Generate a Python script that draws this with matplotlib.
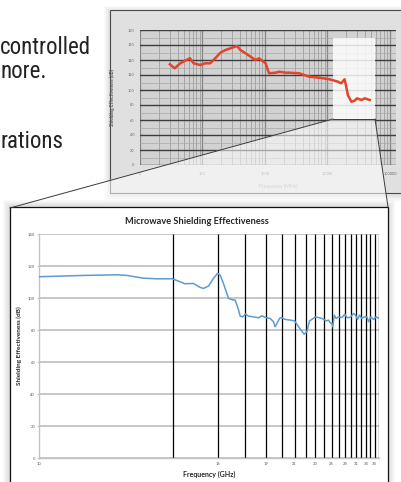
import numpy as np
import matplotlib
matplotlib.use("Agg")
import matplotlib.pyplot as plt
from matplotlib import font_manager
from matplotlib.patches import Rectangle, Polygon

plt.rcParams['font.family'] = ['Lato', 'DejaVu Sans']

W, H = 401, 482

# main chart: position along the axis (in units of the vertical grid lines) and dB
se_pos = [0.0, 0.16, 0.37, 0.45, 0.61, 0.77, 1.0, 1.13, 1.22, 1.39, 1.54, 1.62, 1.75, 1.88,
          2.0, 2.08, 2.18, 2.35, 2.53, 2.59, 2.72, 2.78, 2.89, 3.0, 3.13, 3.37, 3.62, 3.79,
          4.0, 4.27, 4.47, 4.57, 4.69, 4.86, 5.0, 5.26, 5.64, 6.0, 6.34, 6.85, 7.11, 7.38,
          7.62, 8.0, 8.35, 8.75, 9.0, 9.28, 9.59, 9.81, 10.0, 10.17, 10.36, 10.65, 11.0,
          11.51, 12.0, 12.32, 12.89, 13.49, 13.87, 14.26, 14.65, 15.12, 15.61, 16.19, 16.56,
          17.09, 17.73, 18.38, 19.15]
se_db = [113.3, 114.1, 114.5, 114.1, 112.4, 112.0, 112.0, 110.1, 108.9, 109.1, 106.6, 106.0,
         107.5, 112.2, 115.4, 114.3, 109.1, 99.7, 98.7, 98.7, 92.4, 88.7, 88.2, 89.9, 88.7,
         88.2, 87.6, 88.9, 87.8, 87.2, 85.1, 82.0, 84.1, 87.2, 87.8, 86.6, 86.2, 85.7, 82.0,
         77.4, 78.9, 85.7, 86.6, 88.2, 87.8, 87.2, 86.6, 85.7, 86.2, 84.5, 84.1, 82.0, 89.3,
         87.2, 88.2, 87.8, 89.9, 87.8, 87.8, 90.3, 89.3, 86.6, 89.3, 87.2, 88.2, 88.2, 85.1,
         88.2, 86.6, 88.2, 87.2]
line_pos = [1, 2, 3, 4, 5, 6, 7, 8, 9, 10, 11, 12, 13, 14, 15, 16, 17, 18, 19]
tick_pos = [0, 2, 4, 6, 8, 10, 12, 14, 16, 18]
tick_lab = ['10', '16', '19', '21', '23', '26', '28', '31', '34', '38']

# small screenshot chart (MHz, dB)
in_mhz = [30, 36, 44, 53, 63, 72, 92, 111, 133, 160, 193, 232, 280, 357, 405, 489, 588, 708,
          800, 1025, 1160, 1490, 1680, 2160, 2440, 3530, 5130, 7430, 10800, 14700, 16600,
          18800, 20000, 21200, 24100, 27200, 29700, 35000, 39500, 47600]
in_db = [134.3, 128.9, 135.6, 139.1, 142.3, 135.6, 133.3, 135.6, 135.6, 142.3, 149.7, 153.3,
         155.6, 158.7, 153.3, 148.9, 144.4, 140.0, 142.3, 135.6, 122.3, 123.1, 124.4, 123.1,
         123.1, 122.3, 117.7, 116.4, 114.3, 111.1, 108.9, 114.3, 104.4, 93.3, 84.4, 85.7,
         88.9, 86.7, 88.9, 86.7]
in_xticks = [10, 100, 1000, 10000, 100000]
in_yticks = [0, 20, 40, 60, 80, 100, 120, 140, 160, 180]
zoom_mhz = [12200, 57300]
zoom_db = [60, 170]

side_text = [("controlled", 0, 54), ("nore.", 0, 78), ("rations", 1, 148)]

# narrow font for the page text if one is installed
installed = {f.name for f in font_manager.fontManager.ttflist}
narrow = [n for n in ['Liberation Sans Narrow', 'Roboto Condensed', 'Open Sans Condensed',
                      'Noto Sans Condensed'] if n in installed]
side_kw = dict(family=[narrow[0], 'DejaVu Sans'], fontsize=16.5) if narrow else \
    dict(family=['Liberation Sans', 'DejaVu Sans'], fontsize=15)

fig = plt.figure(figsize=(W / 100, H / 100), dpi=100)
fig.patch.set_facecolor('white')


def px_axes(x0, y0, x1, y1, z):
    return fig.add_axes([x0 / W, 1 - y1 / H, (x1 - x0) / W, (y1 - y0) / H], zorder=z)


def layer(z):
    a = px_axes(0, 0, W, H, z)
    a.set_xlim(0, W)
    a.set_ylim(H, 0)
    a.axis('off')
    return a


back = layer(0)
for s, x, y in side_text:
    back.text(x, y, s, color='#222222', va='baseline', **side_kw)

# screenshot frame with soft shadow
for k in range(1, 7):
    back.add_patch(Rectangle((110 - k, 10 - k + 2), 300, 183 + 2 * k, fc='k', alpha=0.02, lw=0))
back.add_patch(Rectangle((110, 10), 300, 183, fc='#e0e0e0', ec='#4a4a4a', lw=0.8))

# screenshot chart
ax_in = px_axes(140, 30, 396, 165, 1)
ax_in.set_facecolor('#d2d2d2')
ax_in.set_xscale('log')
ax_in.set_xlim(10, 1.25e5)
ax_in.set_ylim(0, 180)
ax_in.set_xticks(in_xticks)
ax_in.set_xticklabels([str(v) for v in in_xticks])
ax_in.set_yticks(in_yticks)
ax_in.set_yticks(np.arange(10, 180, 20), minor=True)
ax_in.set_axisbelow(True)
ax_in.grid(which='minor', axis='x', color='#9e9e9e', lw=0.6)
ax_in.grid(which='major', axis='x', color='#858585', lw=0.9)
ax_in.grid(which='minor', axis='y', color='#a8a8a8', lw=0.5)
ax_in.grid(which='major', axis='y', color='#3c3c3c', lw=1.0)
ax_in.tick_params(which='both', length=0, labelsize=2.8, labelcolor='#6a6a6a')
ax_in.tick_params(axis='y', pad=4)
ax_in.tick_params(axis='x', pad=5)
ax_in.tick_params(axis='x', which='minor', labelbottom=False)
for sp in ax_in.spines.values():
    sp.set_visible(False)
ax_in.add_patch(Rectangle((zoom_mhz[0], zoom_db[0]), zoom_mhz[1] - zoom_mhz[0],
                          zoom_db[1] - zoom_db[0], fc='white', alpha=0.82, lw=0, zorder=2))
ax_in.plot(in_mhz, in_db, color='#e2452b', lw=1.8, zorder=3)
ax_in.set_ylabel('Shielding Effectiveness (dB)', fontsize=3.3, color='#555555',
                 fontweight='bold')
ax_in.yaxis.set_label_coords(-0.098, 0.5)
ax_in.set_xlabel('Frequency (MHz)', fontsize=3.6, color='#9a9a9a')
ax_in.xaxis.set_label_coords(0.54, -0.14)

# zoom cone and main panel
over = layer(2)
over.add_patch(Polygon([(333, 119), (375, 119), (388, 207), (10, 207)], closed=True,
                       fc='white', alpha=0.55, lw=0))
over.plot([333, 10], [119, 208], color='#3a3a3a', lw=0.7)
over.plot([375, 388], [119, 207], color='#3a3a3a', lw=0.7)
over.plot([333, 375], [119, 119], color='#3a3a3a', lw=0.7)
for k in range(1, 8):
    over.add_patch(Rectangle((10 - k, 207 - k), 378 + 2 * k, 300, fc='k', alpha=0.018, lw=0))
over.add_patch(Rectangle((10, 207), 378, 300, fc='white', ec='#111111', lw=0.9))

ax = px_axes(39.3, 234, 379.2, 458, 3)
ax.set_facecolor('none')
ax.set_xscale('function', functions=(lambda x: np.log(x + 0.2), lambda y: np.exp(y) - 0.2))
ax.set_xlim(0, 19.15)
ax.set_ylim(0, 140)
ax.set_yticks(range(0, 141, 20))
ax.set_xticks(tick_pos)
ax.set_xticklabels(tick_lab)
ax.xaxis.set_minor_locator(matplotlib.ticker.NullLocator())
ax.grid(axis='y', color='#c3c3c3', lw=1.3)
ax.set_axisbelow(True)
ax.vlines(line_pos, 0, 140, color='black', lw=0.9, zorder=2)
ax.plot(se_pos, se_db, color='#5b9bd5', lw=1.1, zorder=3)
for side in ['top', 'right']:
    ax.spines[side].set_visible(False)
for side in ['left', 'bottom']:
    ax.spines[side].set_color('#c3c3c3')
    ax.spines[side].set_linewidth(1.0)
ax.tick_params(axis='y', length=1.5, color='#c3c3c3', labelsize=3, labelcolor='#595959', pad=1.5)
ax.tick_params(axis='x', length=0, labelsize=3, labelcolor='#595959', pad=3)
ax.set_title('Microwave Shielding Effectiveness', fontsize=6.7, fontweight='bold',
             color='#262626', pad=7.5, x=0.464)
ax.set_xlabel('Frequency (GHz)', fontsize=5, fontweight='bold', color='#262626', labelpad=3)
ax.set_ylabel('Shielding Effectiveness (dB)', fontsize=4.6, fontweight='bold',
              color='#262626', labelpad=4)

fig.savefig('out.png', dpi=100)
